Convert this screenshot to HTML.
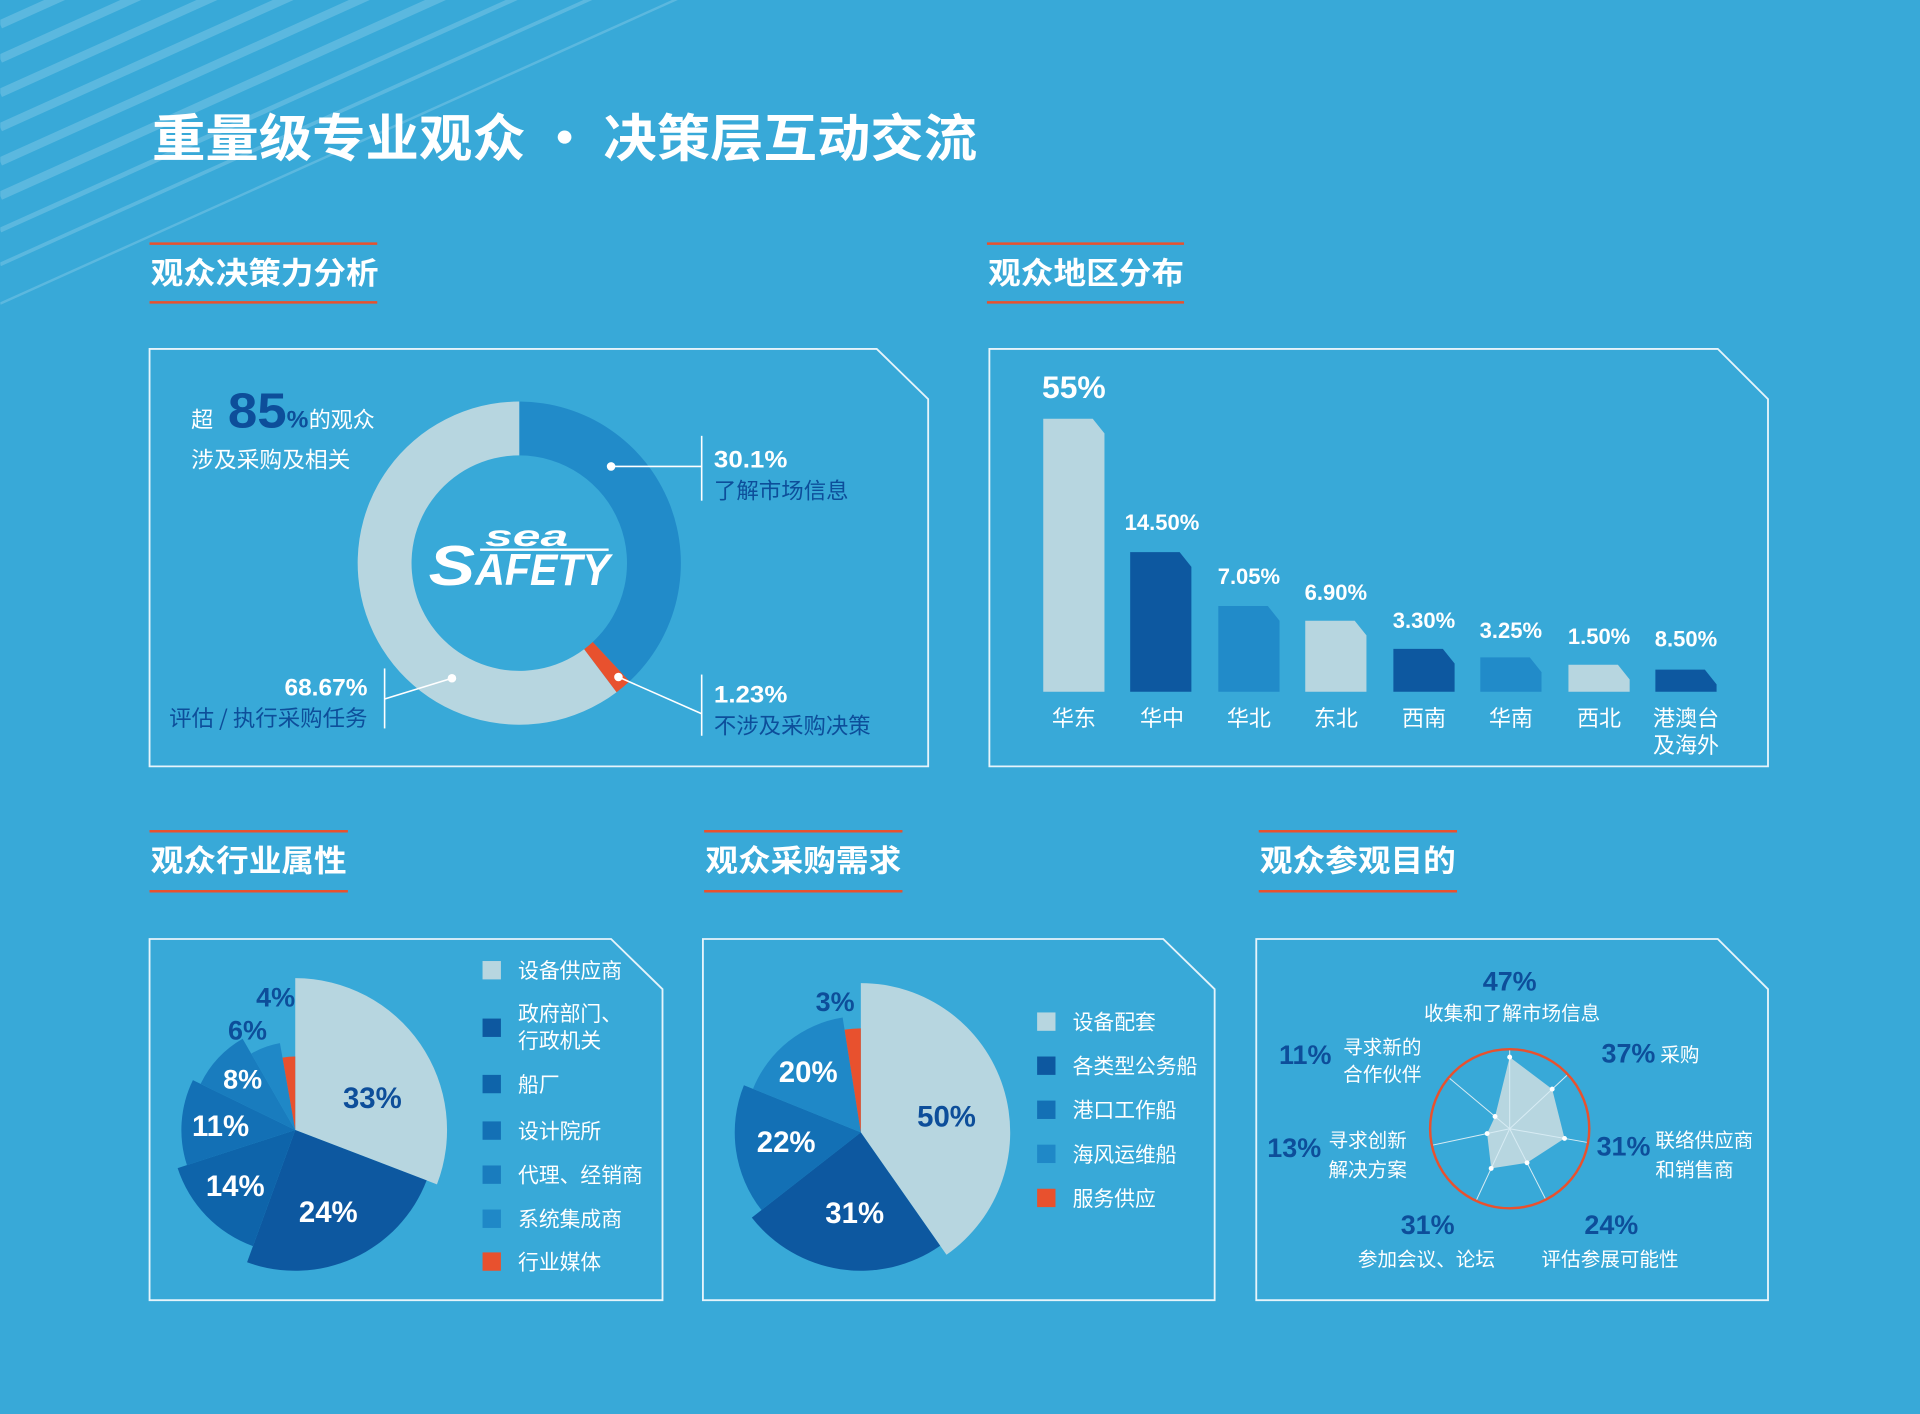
<!DOCTYPE html>
<html><head><meta charset="utf-8">
<style>
html,body{margin:0;padding:0;background:#38a9d8;}
svg{display:block;}
text{font-family:"Liberation Sans","Noto Sans CJK SC",sans-serif;}
.cjk{font-family:"Noto Sans CJK SC","WenQuanYi Zen Hei",sans-serif;}
</style></head>
<body>
<svg id="s" width="1920" height="1414" viewBox="0 0 1568 1155" xmlns="http://www.w3.org/2000/svg">
<rect width="1568" height="1155" fill="#38a9d8"/>
<defs><clipPath id="tri"><polygon points="0,0 760,0 0,270"/></clipPath></defs>
<g clip-path="url(#tri)" stroke="#ffffff" stroke-opacity="0.18" stroke-width="7">
<line x1="0" y1="20" x2="800" y2="-340"/>
<line x1="0" y1="48" x2="800" y2="-312"/>
<line x1="0" y1="76" x2="800" y2="-284"/>
<line x1="0" y1="104" x2="800" y2="-256"/>
<line x1="0" y1="132" x2="800" y2="-228"/>
<line x1="0" y1="160" x2="800" y2="-200"/>
<line x1="0" y1="188" x2="800" y2="-172" stroke-width="4"/>
<line x1="0" y1="216" x2="800" y2="-144" stroke-width="3"/>
<line x1="0" y1="248" x2="800" y2="-112" stroke-width="2"/>
</g>

<!-- Main title -->
<text x="124" y="128" fill="#fff" font-size="42" font-weight="bold" class="cjk" textLength="674" lengthAdjust="spacingAndGlyphs">重量级专业观众 · 决策层互动交流</text>

<!-- Section titles -->
<g fill="#fff" font-size="25" font-weight="bold" class="cjk">
<text x="123" y="232" textLength="186" lengthAdjust="spacingAndGlyphs">观众决策力分析</text>
<text x="807" y="232" textLength="160" lengthAdjust="spacingAndGlyphs">观众地区分布</text>
<text x="123" y="712" textLength="160" lengthAdjust="spacingAndGlyphs">观众行业属性</text>
<text x="576" y="712" textLength="160" lengthAdjust="spacingAndGlyphs">观众采购需求</text>
<text x="1029" y="712" textLength="160" lengthAdjust="spacingAndGlyphs">观众参观目的</text>
</g>
<g stroke="#e8512e" stroke-width="2">
<line x1="122" y1="199" x2="308" y2="199"/><line x1="122" y1="247" x2="308" y2="247"/>
<line x1="806" y1="199" x2="967" y2="199"/><line x1="806" y1="247" x2="967" y2="247"/>
<line x1="122" y1="679" x2="284" y2="679"/><line x1="122" y1="728" x2="284" y2="728"/>
<line x1="575" y1="679" x2="737" y2="679"/><line x1="575" y1="728" x2="737" y2="728"/>
<line x1="1028" y1="679" x2="1190" y2="679"/><line x1="1028" y1="728" x2="1190" y2="728"/>
</g>

<!-- Panels -->
<g fill="none" stroke="#e6f4fb" stroke-width="1.5">
<polygon points="122,285 716,285 758,326 758,626 122,626"/>
<polygon points="808,285 1403,285 1444,326 1444,626 808,626"/>
<polygon points="122,767 499,767 541,808 541,1062 122,1062"/>
<polygon points="574,767 950,767 992,808 992,1062 574,1062"/>
<polygon points="1026,767 1403,767 1444,808 1444,1062 1026,1062"/>
</g>

<g id="dyn"></g>

<!-- Panel 1 texts -->
<text x="156" y="349" fill="#fff" font-size="18" class="cjk">超</text>
<text x="186" y="349" fill="#0d4e9a" font-size="40" font-weight="bold" textLength="48" lengthAdjust="spacingAndGlyphs">85</text>
<text x="234" y="349" fill="#0d4e9a" font-size="20" font-weight="bold">%</text>
<text x="252" y="349" fill="#fff" font-size="18" class="cjk">的观众</text>
<text x="156" y="382" fill="#fff" font-size="18" class="cjk" textLength="130" lengthAdjust="spacingAndGlyphs">涉及采购及相关</text>

<g stroke="#fff" stroke-width="1.3" fill="none">
<line x1="499" y1="381" x2="573" y2="381"/><line x1="573" y1="356" x2="573" y2="409"/>
<line x1="505" y1="553" x2="573" y2="583"/><line x1="573" y1="551" x2="573" y2="601"/>
<line x1="369" y1="554" x2="314" y2="571"/><line x1="314" y1="546" x2="314" y2="595"/>
</g>
<g fill="#fff"><circle cx="499" cy="381" r="3.5"/><circle cx="505" cy="553" r="3.5"/><circle cx="369" cy="554" r="3.5"/></g>
<text x="583" y="382" fill="#fff" font-size="20" font-weight="bold" textLength="60" lengthAdjust="spacingAndGlyphs">30.1%</text>
<text x="583" y="407" fill="#0d4e9a" font-size="18" class="cjk" textLength="110" lengthAdjust="spacingAndGlyphs">了解市场信息</text>
<text x="583" y="574" fill="#fff" font-size="20" font-weight="bold" textLength="60" lengthAdjust="spacingAndGlyphs">1.23%</text>
<text x="583" y="599" fill="#0d4e9a" font-size="18" class="cjk" textLength="128" lengthAdjust="spacingAndGlyphs">不涉及采购决策</text>
<text x="300" y="568" fill="#fff" font-size="20" font-weight="bold" text-anchor="end">68.67%</text>
<text x="300" y="593" fill="#0d4e9a" font-size="18" class="cjk" text-anchor="end" textLength="162" lengthAdjust="spacingAndGlyphs">评估 / 执行采购任务</text>

<!-- Logo -->
<text x="396" y="446" fill="#fff" font-size="24" font-weight="bold" font-style="italic" textLength="68" lengthAdjust="spacingAndGlyphs">sea</text>
<line x1="392" y1="449" x2="497" y2="449" stroke="#fff" stroke-width="2"/>
<text x="350" y="478" fill="#fff" font-size="46" font-weight="bold" font-style="italic" textLength="38" lengthAdjust="spacingAndGlyphs">S</text>
<text x="388" y="478" fill="#fff" font-size="36" font-weight="bold" font-style="italic" textLength="110" lengthAdjust="spacingAndGlyphs">AFETY</text>

<!-- Bar chart -->
<g font-weight="bold" fill="#fff" text-anchor="middle">
<text x="877" y="325" font-size="26">55%</text>
<text x="949" y="433" font-size="18">14.50%</text>
<text x="1020" y="477" font-size="18">7.05%</text>
<text x="1091" y="490" font-size="18">6.90%</text>
<text x="1163" y="513" font-size="18">3.30%</text>
<text x="1234" y="521" font-size="18">3.25%</text>
<text x="1306" y="526" font-size="18">1.50%</text>
<text x="1377" y="528" font-size="18">8.50%</text>
</g>
<g fill="#fff" font-size="18" text-anchor="middle" class="cjk">
<text x="877" y="593">华东</text><text x="949" y="593">华中</text><text x="1020" y="593">华北</text>
<text x="1091" y="593">东北</text><text x="1163" y="593">西南</text><text x="1234" y="593">华南</text>
<text x="1306" y="593">西北</text><text x="1377" y="593">港澳台</text><text x="1377" y="615">及海外</text>
</g>

<!-- Pie 1 labels & legend -->
<g font-weight="bold" font-size="24">
<text x="304" y="905" fill="#0d4e9a" text-anchor="middle">33%</text>
<text x="268" y="998" fill="#fff" text-anchor="middle">24%</text>
<text x="192" y="977" fill="#fff" text-anchor="middle">14%</text>
<text x="180" y="928" fill="#fff" text-anchor="middle">11%</text>
<text x="198" y="889" fill="#fff" text-anchor="middle" font-size="22">8%</text>
<text x="202" y="849" fill="#0d4e9a" text-anchor="middle" font-size="22">6%</text>
<text x="225" y="822" fill="#0d4e9a" text-anchor="middle" font-size="22">4%</text>
</g>
<g font-size="17" fill="#fff" class="cjk">
<rect x="394" y="785" width="15" height="15" fill="#b7d6e0"/><text x="423" y="799">设备供应商</text>
<rect x="394" y="832" width="15" height="15" fill="#0d58a0"/><text x="423" y="834">政府部门、</text><text x="423" y="856">行政机关</text>
<rect x="394" y="878" width="15" height="15" fill="#0e64aa"/><text x="423" y="892">船厂</text>
<rect x="394" y="916" width="15" height="15" fill="#1370b5"/><text x="423" y="930">设计院所</text>
<rect x="394" y="952" width="15" height="15" fill="#197cbe"/><text x="423" y="966">代理、经销商</text>
<rect x="394" y="988" width="15" height="15" fill="#1f88c7"/><text x="423" y="1002">系统集成商</text>
<rect x="394" y="1023" width="15" height="15" fill="#e8512e"/><text x="423" y="1037">行业媒体</text>
</g>

<!-- Pie 2 labels & legend -->
<g font-weight="bold" font-size="24">
<text x="773" y="920" fill="#0d4e9a" text-anchor="middle">50%</text>
<text x="698" y="999" fill="#fff" text-anchor="middle">31%</text>
<text x="642" y="941" fill="#fff" text-anchor="middle">22%</text>
<text x="660" y="884" fill="#fff" text-anchor="middle">20%</text>
<text x="682" y="826" fill="#0d4e9a" text-anchor="middle" font-size="22">3%</text>
</g>
<g font-size="17" fill="#fff" class="cjk">
<rect x="847" y="827" width="15" height="15" fill="#b7d6e0"/><text x="876" y="841">设备配套</text>
<rect x="847" y="863" width="15" height="15" fill="#0d58a0"/><text x="876" y="877">各类型公务船</text>
<rect x="847" y="899" width="15" height="15" fill="#1370b5"/><text x="876" y="913">港口工作船</text>
<rect x="847" y="935" width="15" height="15" fill="#1f88c7"/><text x="876" y="949">海风运维船</text>
<rect x="847" y="971" width="15" height="15" fill="#e8512e"/><text x="876" y="985">服务供应</text>
</g>

<!-- Radar labels -->
<g font-weight="bold" font-size="22" fill="#0d4e9a">
<text x="1233" y="809" text-anchor="middle">47%</text>
<text x="1330" y="868" text-anchor="middle">37%</text>
<text x="1326" y="944" text-anchor="middle">31%</text>
<text x="1316" y="1008" text-anchor="middle">24%</text>
<text x="1166" y="1008" text-anchor="middle">31%</text>
<text x="1057" y="945" text-anchor="middle">13%</text>
<text x="1066" y="869" text-anchor="middle">11%</text>
</g>
<g font-size="16" fill="#fff" class="cjk">
<text x="1235" y="833" text-anchor="middle">收集和了解市场信息</text>
<text x="1356" y="867">采购</text>
<text x="1352" y="937">联络供应商</text><text x="1352" y="961">和销售商</text>
<text x="1315" y="1034" text-anchor="middle">评估参展可能性</text>
<text x="1165" y="1034" text-anchor="middle">参加会议、论坛</text>
<text x="1085" y="937">寻求创新</text><text x="1085" y="961">解决方案</text>
<text x="1097" y="861">寻求新的</text><text x="1097" y="883">合作伙伴</text>
</g>

<script>
(function(){
var NS="http://www.w3.org/2000/svg",g=document.getElementById("dyn");
function el(n,a){var e=document.createElementNS(NS,n);for(var k in a)e.setAttribute(k,a[k]);g.appendChild(e);return e;}
function pt(cx,cy,r,a){var t=(a-90)*Math.PI/180;return [cx+r*Math.cos(t),cy+r*Math.sin(t)];}
function sector(cx,cy,r,a0,a1,fill){var p=pt(cx,cy,r,a0),q=pt(cx,cy,r,a1);var l=(a1-a0)>180?1:0;
 el("path",{d:"M"+cx+","+cy+"L"+p[0]+","+p[1]+"A"+r+","+r+" 0 "+l+" 1 "+q[0]+","+q[1]+"Z",fill:fill});}
function ring(cx,cy,r1,r2,a0,a1,fill){var p=pt(cx,cy,r2,a0),q=pt(cx,cy,r2,a1),s=pt(cx,cy,r1,a1),t=pt(cx,cy,r1,a0);var l=(a1-a0)>180?1:0;
 el("path",{d:"M"+p[0]+","+p[1]+"A"+r2+","+r2+" 0 "+l+" 1 "+q[0]+","+q[1]+"L"+s[0]+","+s[1]+"A"+r1+","+r1+" 0 "+l+" 0 "+t[0]+","+t[1]+"Z",fill:fill});}
// donut
ring(424,460,88,132,0,137,"#218bc9");
ring(424,460,88,132,137,143,"#e8512e");
ring(424,460,88,132,143,360,"#b7d6e0");
// bars
var bars=[[852,342,"#b7d6e0"],[923,451,"#0d58a0"],[995,495,"#218bc9"],[1066,507,"#b7d6e0"],[1138,530,"#0d58a0"],[1209,537,"#218bc9"],[1281,543,"#b7d6e0"],[1352,547,"#0d58a0"]];
bars.forEach(function(b){var x=b[0],y=b[1],w=50,base=565,c=Math.min(12,(base-y)*0.9);
 el("polygon",{points:x+","+base+" "+x+","+y+" "+(x+w-c*0.8)+","+y+" "+(x+w)+","+(y+c)+" "+(x+w)+","+base,fill:b[2]});});
// pie1
var c1=[241,923];
sector(c1[0],c1[1],124,0,111,"#b7d6e0");
sector(c1[0],c1[1],115,111,200,"#0d58a0");
sector(c1[0],c1[1],101,200,252,"#0e64aa");
sector(c1[0],c1[1],93,252,296,"#1370b5");
sector(c1[0],c1[1],86,296,330,"#197cbe");
sector(c1[0],c1[1],72,330,350,"#1f88c7");
sector(c1[0],c1[1],60,350,360,"#e8512e");
// pie2
var c2=[703,925];
sector(c2[0],c2[1],122,0,145,"#b7d6e0");
sector(c2[0],c2[1],113,145,232,"#0d58a0");
sector(c2[0],c2[1],103,232,292,"#1370b5");
sector(c2[0],c2[1],95,292,351,"#1f88c7");
sector(c2[0],c2[1],85,351,360,"#e8512e");
// radar
var rc=[1233,922],R=65,ang=[0,47,100,153,205,258,310],val=[0.9,0.73,0.7,0.48,0.55,0.29,0.24];
var pts=ang.map(function(a,i){return pt(rc[0],rc[1],R*val[i],a);});
el("polygon",{points:pts.map(function(p){return p.join(",");}).join(" "),fill:"#b7d6e0"});
ang.forEach(function(a){var p=pt(rc[0],rc[1],R,a);el("line",{x1:rc[0],y1:rc[1],x2:p[0],y2:p[1],stroke:"#d8ecf4","stroke-width":0.8});});
pts.forEach(function(p){el("circle",{cx:p[0],cy:p[1],r:2,fill:"#fff"});});
el("circle",{cx:rc[0],cy:rc[1],r:R,fill:"none",stroke:"#e8512e","stroke-width":2});
})();
</script>
</svg>
</body></html>
